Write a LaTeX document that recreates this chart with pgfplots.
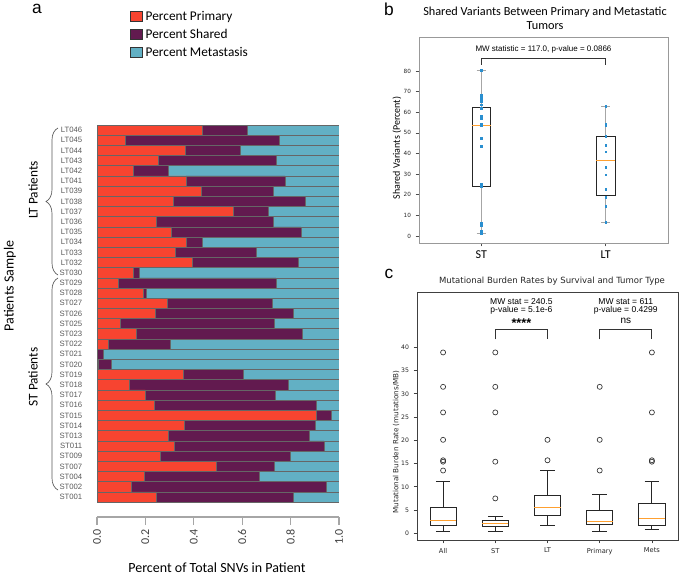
\documentclass[border=0pt]{standalone}
\usepackage{pgfplots}
\pgfplotsset{compat=1.18}
\usepackage{pgfplotstable}
\usepgfplotslibrary{statistics}
\usetikzlibrary{decorations.pathreplacing}
\usepackage{fontspec}
\setmainfont{Carlito}
\newfontfamily\arial{Liberation Sans}
\newfontfamily\dejavu{DejaVu Sans}
\definecolor{cprim}{HTML}{F74430}
\definecolor{cshar}{HTML}{621A4F}
\definecolor{cmeta}{HTML}{62B0C4}
\definecolor{cdot}{HTML}{2A8FD0}
\definecolor{cmed}{HTML}{FFA030}
\pgfplotsset{boxplot/draw direction=y}

\pgfplotstableread{
idx prim shar meta
0 0.245 0.568 0.187
1 0.140 0.806 0.054
2 0.196 0.473 0.331
3 0.493 0.240 0.267
4 0.262 0.538 0.200
5 0.320 0.619 0.061
6 0.295 0.584 0.121
7 0.362 0.542 0.096
8 0.908 0.062 0.030
9 0.236 0.672 0.092
10 0.200 0.538 0.262
11 0.135 0.657 0.208
12 0.358 0.248 0.394
13 0.005 0.053 0.942
14 0.001 0.024 0.975
15 0.048 0.254 0.698
16 0.163 0.684 0.153
17 0.098 0.636 0.266
18 0.241 0.570 0.189
19 0.291 0.434 0.275
20 0.193 0.011 0.796
21 0.088 0.652 0.260
22 0.152 0.023 0.825
23 0.393 0.440 0.167
24 0.325 0.332 0.343
25 0.369 0.068 0.563
26 0.307 0.536 0.157
27 0.244 0.483 0.273
28 0.563 0.145 0.292
29 0.317 0.543 0.140
30 0.432 0.297 0.271
31 0.368 0.409 0.223
32 0.150 0.143 0.707
33 0.255 0.487 0.258
34 0.365 0.226 0.409
35 0.118 0.634 0.248
36 0.435 0.188 0.377
}\snvtable

\begin{document}
\begin{tikzpicture}
\begin{scope}[x=0.75pt,y=-0.75pt]
\useasboundingbox (0,0) rectangle (683,576);
\coordinate (Aa) at (97,517);
\coordinate (Ab) at (419,243);
\coordinate (Ac) at (417,540);
% panel letters
\node[font=\arial\fontsize{13}{13}\selectfont] at (37,9) {a};
\node[font=\arial\fontsize{13}{13}\selectfont] at (389,9) {b};
\node[font=\arial\fontsize{13}{13}\selectfont] at (389,274) {c};
% panel a side labels
\node[rotate=90,font=\fontsize{10.5}{11}\selectfont] at (10,286) {Patients Sample};
\node[rotate=90,font=\fontsize{10}{11}\selectfont] at (33,190) {LT Patients};
\node[rotate=90,font=\fontsize{10}{11}\selectfont] at (33,377) {ST Patients};
\draw[gray!70!black,line width=0.5pt,decorate,decoration={brace,amplitude=9pt}] (58,275) -- (58,128);
\draw[gray!70!black,line width=0.5pt,decorate,decoration={brace,amplitude=9pt}] (58,490) -- (58,278);
\node[font=\fontsize{10.5}{11}\selectfont] at (217,568) {Percent of Total SNVs in Patient};
% titles
\node[align=center,font=\fontsize{9.2}{10.2}\selectfont] at (545,18) {Shared Variants Between Primary and Metastatic\\Tumors};
\node[font=\dejavu\fontsize{6.4}{7}\selectfont,text=black!85] at (552,281) {Mutational Burden Rates by Survival and Tumor Type};
\node[rotate=90,font=\fontsize{7.5}{8}\selectfont] at (397,148) {Shared Variants (Percent)};
\node[rotate=90,font=\dejavu\fontsize{5.4}{6}\selectfont,text=black!85] at (396,442) {Mutational Burden Rate (mutations/MB)};
\end{scope}

% ---------------- panel a
\begin{axis}[
  at={(Aa)}, anchor=south west, scale only axis,
  width=181.5pt, height=294pt,
  xbar stacked, bar width=1,
  xmin=0, xmax=1, ymin=-1.97, ymax=36.5,
  axis x line*=bottom, axis y line*=left,
  y axis line style={draw=none},
  x axis line style={draw=gray!70, line width=0.8pt, -},
  xtick={0,0.2,0.4,0.6,0.8,1},
  xticklabel style={rotate=90, anchor=east, font=\fontsize{9}{9}\selectfont, text=gray!50!black,
     /pgf/number format/fixed, /pgf/number format/fixed zerofill, /pgf/number format/precision=1},
  tick align=outside, major tick length=6pt,
  xtick style={draw=gray!70, line width=0.8pt},
  ytick={0,...,36},
  yticklabels={ST001,ST002,ST004,ST007,ST009,ST011,ST013,ST014,ST015,ST016,ST017,ST018,ST019,ST020,ST021,ST022,ST023,ST025,ST026,ST027,ST028,ST029,ST030,LT032,LT033,LT034,LT035,LT036,LT037,LT038,LT039,LT041,LT042,LT043,LT044,LT045,LT046},
  ytick style={draw=none},
  yticklabel style={font=\arial\fontsize{5.8}{6}\selectfont, text=gray!70!black, xshift=-1.5pt},
  /pgf/number format/assume math mode=true,
  legend style={at={(axis description cs:0.12,1.305)}, anchor=north west, draw=none, fill=none,
     font=\fontsize{10}{11}\selectfont, row sep=1.2pt, legend cell align=left},
  legend image code/.code={\draw[#1,draw=gray!40!black,line width=0.5pt] (0pt,-3.6pt) rectangle (9pt,3.9pt);},
]
\addplot[fill=cprim, draw=gray!80!black, line width=0.5pt] table[x=prim,y=idx] {\snvtable};
\addplot[fill=cshar, draw=gray!80!black, line width=0.5pt] table[x=shar,y=idx] {\snvtable};
\addplot[fill=cmeta, draw=gray!80!black, line width=0.5pt] table[x=meta,y=idx] {\snvtable};
\legend{Percent Primary, Percent Shared, Percent Metastasis}
\end{axis}

% ---------------- panel b
\begin{axis}[
  at={(Ab)}, anchor=south west, scale only axis,
  width=186.75pt, height=154.5pt,
  xmin=0.5, xmax=2.5, ymin=-3.4, ymax=96.5,
  xtick={1,2}, xticklabels={ST,LT}, ytick={0,10,...,80},
  tick align=outside, tick pos=left, major tick length=2.5pt,
  axis line style={draw=gray!80, line width=0.6pt},
  tick style={draw=gray!60!black, line width=0.5pt},
  xticklabel style={font=\fontsize{9}{9}\selectfont, text=black},
  yticklabel style={font=\dejavu\fontsize{4.3}{5}\selectfont, text=gray!30!black},
  /pgf/number format/assume math mode=true,
]
\addplot[draw=gray!30!black, line width=0.6pt, boxplot prepared={draw position=1,
  lower whisker=1.1, lower quartile=24.0, median=53.6, upper quartile=62.5, upper whisker=80.3,
  box extend=0.15, whisker extend=0.075,
  every median/.style={draw=cmed}, every whisker/.style={draw=gray!70}}] coordinates {};
\addplot[draw=gray!30!black, line width=0.6pt, boxplot prepared={draw position=2,
  lower whisker=6.8, lower quartile=19.5, median=36.8, upper quartile=48.3, upper whisker=63.0,
  box extend=0.15, whisker extend=0.075,
  every median/.style={draw=cmed}, every whisker/.style={draw=gray!70}}] coordinates {};
\addplot[only marks, mark=square*, mark size=0.6pt, color=cdot] coordinates {
 (1,56.8) (1,80.3) (1,47.3) (1,24.0) (1,53.8) (1,61.9) (1,58.4) (1,54.2) (1,6.2) (1,67.2)
 (1,53.8) (1,65.7) (1,24.8) (1,5.3) (1,2.4) (1,25.4) (1,68.4) (1,63.6) (1,57.0) (1,43.4)
 (1,1.1) (1,65.2) (1,2.3)
 (2,44.0) (2,33.2) (2,6.8) (2,53.6) (2,48.3) (2,14.5) (2,54.3) (2,29.7) (2,40.9) (2,14.3)
 (2,48.7) (2,22.6) (2,63.0) (2,18.8)};
\addplot[black!80, line width=0.6pt] coordinates {(1,83) (1,86.2) (2,86.2) (2,83)};
\node[font=\arial\fontsize{6}{7}\selectfont] at (axis cs:1.5,90.6) {MW statistic = 117.0, p-value = 0.0866};
\end{axis}

% ---------------- panel c
\begin{axis}[
  at={(Ac)}, anchor=south west, scale only axis,
  width=195.75pt, height=186pt,
  xmin=0.5, xmax=5.5, ymin=-1.45, ymax=51.9,
  xtick={1,2,3,4,5}, xticklabels={All,ST,LT,Primary,Mets}, ytick={0,5,...,40},
  tick align=outside, tick pos=left, major tick length=2.5pt,
  axis line style={draw=gray!50!black, line width=0.6pt},
  tick style={draw=gray!50!black, line width=0.5pt},
  xticklabel style={font=\dejavu\fontsize{5}{5}\selectfont, text=gray!30!black},
  yticklabel style={font=\dejavu\fontsize{4.6}{5}\selectfont, text=gray!30!black},
  /pgf/number format/assume math mode=true,
]
\addplot[draw=black!85, line width=0.6pt, boxplot prepared={draw position=1,
  lower whisker=0.5, lower quartile=1.8, median=2.8, upper quartile=5.5, upper whisker=11.1,
  box extend=0.5, whisker extend=0.28, every median/.style={draw=cmed}}] coordinates {};
\addplot[draw=black!85, line width=0.6pt, boxplot prepared={draw position=2,
  lower whisker=0.5, lower quartile=1.5, median=2.15, upper quartile=2.8, upper whisker=3.7,
  box extend=0.5, whisker extend=0.28, every median/.style={draw=cmed}}] coordinates {};
\addplot[draw=black!85, line width=0.6pt, boxplot prepared={draw position=3,
  lower whisker=1.6, lower quartile=3.8, median=5.5, upper quartile=8.2, upper whisker=13.5,
  box extend=0.5, whisker extend=0.28, every median/.style={draw=cmed}}] coordinates {};
\addplot[draw=black!85, line width=0.6pt, boxplot prepared={draw position=4,
  lower whisker=0.5, lower quartile=1.9, median=2.45, upper quartile=4.95, upper whisker=8.45,
  box extend=0.5, whisker extend=0.28, every median/.style={draw=cmed}}] coordinates {};
\addplot[draw=black!85, line width=0.6pt, boxplot prepared={draw position=5,
  lower whisker=0.9, lower quartile=1.6, median=3.2, upper quartile=6.4, upper whisker=11.1,
  box extend=0.5, whisker extend=0.28, every median/.style={draw=cmed}}] coordinates {};
\addplot[only marks, mark=o, mark size=1.9pt, mark options={line width=0.5pt}, black!80] coordinates {
 (1,13.5) (1,15.4) (1,15.7) (1,20.1) (1,26.0) (1,31.5) (1,38.9)
 (2,7.5) (2,15.4) (2,26.0) (2,31.5) (2,38.9)
 (3,15.7) (3,20.1)
 (4,13.5) (4,20.1) (4,31.5)
 (5,15.4) (5,15.7) (5,26.0) (5,38.9)};
\addplot[black!80, line width=0.6pt] coordinates {(2,41.7) (2,43.8) (3,43.8) (3,41.7)};
\addplot[black!80, line width=0.6pt] coordinates {(4,41.7) (4,43.8) (5,43.8) (5,41.7)};
\node[font=\arial\fontsize{6.4}{7}\selectfont] at (axis cs:2.5,49.8) {MW stat = 240.5};
\node[font=\arial\fontsize{6.4}{7}\selectfont] at (axis cs:2.5,47.9) {p-value = 5.1e-6};
\node[font=\arial\bfseries\fontsize{9.5}{9}\selectfont] at (axis cs:2.5,45.2) {****};
\node[font=\arial\fontsize{6.4}{7}\selectfont] at (axis cs:4.5,49.8) {MW stat = 611};
\node[font=\arial\fontsize{6.4}{7}\selectfont] at (axis cs:4.5,47.9) {p-value = 0.4299};
\node[font=\arial\fontsize{7.5}{7}\selectfont] at (axis cs:4.5,45.6) {ns};
\end{axis}
\end{tikzpicture}
\end{document}
